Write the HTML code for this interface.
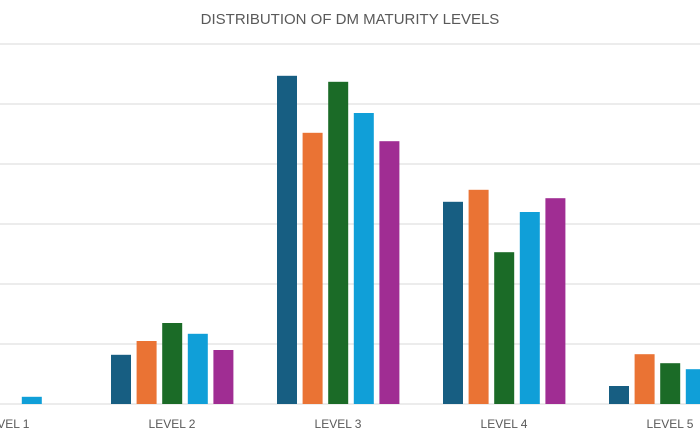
<!DOCTYPE html>
<html><head><meta charset="utf-8"><style>
body{margin:0;background:#fff;}
svg{display:block;font-family:"Liberation Sans",sans-serif;}
</style></head><body>
<svg id="c" width="700" height="441">
<text x="350" y="24" text-anchor="middle" font-size="15" fill="#595959">DISTRIBUTION OF DM MATURITY LEVELS</text>
<g id="grid"></g><g id="bars"></g><g id="labels"></g>
</svg>
<script>
const categories=["LEVEL 1","LEVEL 2","LEVEL 3","LEVEL 4","LEVEL 5"];
const series1=[0,8.2,54.7,33.7,3];
const series2=[0,10.5,45.2,35.7,8.3];
const series3=[0,13.5,53.7,25.3,6.8];
const series4=[1.2,11.7,48.5,32,5.8];
const series5=[0,9,43.8,34.3,4];
const ticks=[0,10,20,30,40,50,60];
const allSeries=[series1,series2,series3,series4,series5];
const colors=["#175e82","#ea7334","#1b6b27","#109fd8","#a02d93"];
const ns="http://www.w3.org/2000/svg";
const base=404,unit=6;
const y=v=>base-v*unit;
const xc=i=>6+166*i;
const g=document.getElementById('grid'),b=document.getElementById('bars'),l=document.getElementById('labels');
ticks.forEach(t=>{const e=document.createElementNS(ns,'line');


e.setAttribute('x1',0);e.setAttribute('x2',700);e.setAttribute('y1',y(t));e.setAttribute('y2',y(t));
e.setAttribute('stroke','#d9d9d9');e.setAttribute('stroke-width',1);g.appendChild(e);});
categories.forEach((c,i)=>{
allSeries.forEach((s,j)=>{const r=document.createElementNS(ns,'rect');


const x=xc(i)-61+j*25.6;r.setAttribute('x',x);r.setAttribute('width',20);
r.setAttribute('y',y(s[i]));r.setAttribute('height',s[i]*unit);r.setAttribute('fill',colors[j]);b.appendChild(r);});
const t=document.createElementNS(ns,'text');


t.setAttribute('x',xc(i));t.setAttribute('y',428);t.setAttribute('text-anchor','middle');
t.setAttribute('font-size','12');t.setAttribute('fill','#595959');t.textContent=c;l.appendChild(t);});
</script>
</body></html>
